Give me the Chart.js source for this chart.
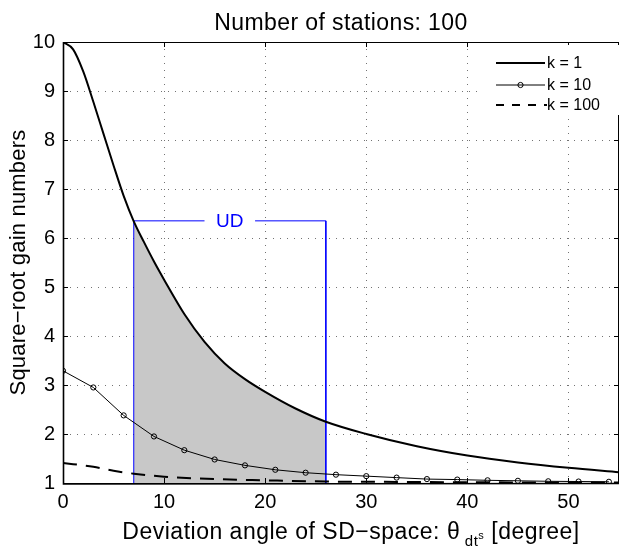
<!DOCTYPE html>
<html>
<head>
<meta charset="utf-8">
<script src="https://cdn.jsdelivr.net/npm/chart.js@4.4.1/dist/chart.umd.min.js"></script>
<style>
html,body{margin:0;padding:0;background:#fff;}
canvas{display:block;}
</style>
</head>
<body>
<canvas id="c" width="624" height="549"></canvas>
<script>
// ---- data ----
const titleText = "Number of stations: 100";
const yAxisTitle = "Square\u2212root gain numbers";
const xTickValues = [0, 10, 20, 30, 40, 50];
const yTickValues = [1, 2, 3, 4, 5, 6, 7, 8, 9, 10];

const xK1 = [0,1,2,3,4,5,6,7,8,9,10,12,14,16,18,20,23,26,30,35,40,45,50,55];
const yK1 = [10.0,9.85,9.40,8.78,8.13,7.48,6.86,6.34,5.92,5.52,5.15,4.45,3.88,3.44,3.12,2.86,2.52,2.25,2.0,1.75,1.56,1.42,1.31,1.22];

const xK10 = [0,3,6,9,12,15,18,21,24,27,30,33,36,39,42,45,48,51,54];
const yK10 = [3.29,2.95,2.38,1.95,1.67,1.48,1.36,1.27,1.21,1.17,1.14,1.11,1.08,1.07,1.055,1.045,1.035,1.03,1.025];

const xK100 = [0,3,5,7,10,15,20,26,30,40,50,55];
const yK100 = [1.41,1.33,1.25,1.19,1.13,1.08,1.055,1.03,1.025,1.015,1.01,1.008];

const seriesNames = ["k = 1", "k = 10", "k = 100"];
const udRange = [7, 26];      // UD interval on x
const udTop = 6.35;           // height of UD bracket
const udGap = [14, 19];       // gap in bracket for the label
const udLabel = "UD";

const FONT = "'Liberation Sans', Arial, Helvetica, sans-serif";

const pts = (xs, ys) => xs.map((x, i) => ({x: x, y: ys[i]}));
const shadePts = pts(xK1, yK1).filter(p => p.x >= udRange[0] && p.x <= udRange[1]);

const decor = {
  id: 'decor',
  afterDatasetsDraw(chart) {
    const ctx = chart.ctx, a = chart.chartArea;
    const xs = chart.scales.x, ys = chart.scales.y;
    ctx.save();
    // UD label
    ctx.fillStyle = '#0000ff';
    ctx.font = '19px ' + FONT;
    ctx.textAlign = 'center';
    ctx.textBaseline = 'middle';
    ctx.fillText(udLabel, xs.getPixelForValue((udGap[0] + udGap[1]) / 2), ys.getPixelForValue(udTop) + 1);

    // frame
    ctx.strokeStyle = '#000';
    ctx.lineWidth = 1;
    ctx.setLineDash([]);
    ctx.strokeRect(Math.round(a.left) + 0.5, Math.round(a.top) + 0.5, Math.round(a.right - a.left) - 1, Math.round(a.bottom - a.top));
    ctx.lineWidth = 1.6;
    ctx.beginPath();
    ctx.moveTo(Math.round(a.left) + 0.5, a.top);
    ctx.lineTo(Math.round(a.left) + 0.5, a.bottom + 1);
    ctx.lineTo(a.right, a.bottom + 0.5);
    ctx.stroke();
    // inward ticks
    ctx.lineWidth = 1;
    const tl = 5;
    ctx.beginPath();
    xTickValues.forEach(v => {
      const px = Math.round(xs.getPixelForValue(v)) + 0.5;
      ctx.moveTo(px, a.bottom); ctx.lineTo(px, a.bottom - tl);
      ctx.moveTo(px, a.top); ctx.lineTo(px, a.top + tl);
    });
    yTickValues.forEach(v => {
      const py = Math.round(ys.getPixelForValue(v)) + 0.5;
      ctx.moveTo(a.left, py); ctx.lineTo(a.left + tl, py);
      ctx.moveTo(a.right, py); ctx.lineTo(a.right - tl, py);
    });
    ctx.stroke();

    // legend
    const lx = 482, ly = 45, lw = 138, lh = 70;
    ctx.fillStyle = '#fff';
    ctx.fillRect(lx, ly, lw, lh);
    const rows = [63, 85, 105];
    const l0 = 496, l1 = 545;
    ctx.strokeStyle = '#000';
    ctx.lineWidth = 2;
    ctx.beginPath(); ctx.moveTo(l0, rows[0]); ctx.lineTo(l1, rows[0]); ctx.stroke();
    ctx.lineWidth = 1;
    ctx.beginPath(); ctx.moveTo(l0, rows[1]); ctx.lineTo(l1, rows[1]); ctx.stroke();
    ctx.beginPath(); ctx.arc((l0 + l1) / 2, rows[1], 2.6, 0, Math.PI * 2); ctx.stroke();
    ctx.lineWidth = 2;
    ctx.setLineDash([8, 8]);
    ctx.beginPath(); ctx.moveTo(l0, rows[2]); ctx.lineTo(l1 + 2, rows[2]); ctx.stroke();
    ctx.setLineDash([]);
    ctx.fillStyle = '#000';
    ctx.font = '16px ' + FONT;
    ctx.textAlign = 'left';
    ctx.textBaseline = 'middle';
    seriesNames.forEach((n, i) => ctx.fillText(n, 547, rows[i] + 1));

    // title
    ctx.font = '23px ' + FONT;
    ctx.letterSpacing = '0.4px';
    ctx.textAlign = 'center';
    ctx.textBaseline = 'alphabetic';
    ctx.fillText(titleText, (a.left + a.right) / 2, 30);

    // y axis title
    ctx.save();
    ctx.font = '22px ' + FONT;
    ctx.letterSpacing = '0.2px';
    ctx.translate(25, (a.top + a.bottom) / 2);
    ctx.rotate(-Math.PI / 2);
    ctx.textAlign = 'center';
    ctx.fillText(yAxisTitle, 0, 0);
    ctx.restore();

    // x axis title with sub/superscript
    ctx.letterSpacing = '0.5px';
    const parts = [
      {t: "Deviation angle of SD\u2212space: \u03b8", f: '23px ', dy: 0},
      {t: " dt", f: '15px ', dy: 7},
      {t: "s", f: '11px ', dy: 0},
      {t: " [degree]", f: '23px ', dy: 0}
    ];
    let total = 0;
    parts.forEach(p => { ctx.font = p.f + FONT; p.w = ctx.measureText(p.t).width; total += p.w; });
    let x = (a.left + a.right) / 2 - total / 2 + 10;
    const base = 539;
    ctx.textAlign = 'left';
    parts.forEach(p => { ctx.font = p.f + FONT; ctx.fillText(p.t, x, base + p.dy); x += p.w; });
    ctx.restore();
  }
};

new Chart(document.getElementById('c'), {
  type: 'line',
  data: {
    datasets: [
      {
        label: 'k = 1', data: pts(xK1, yK1), borderColor: '#000', borderWidth: 2,
        pointRadius: 0, cubicInterpolationMode: 'monotone', fill: false, order: 1
      },
      {
        label: 'k = 10', data: pts(xK10, yK10), borderColor: '#000', borderWidth: 1,
        pointRadius: 2.6, pointBorderWidth: 1, pointBorderColor: '#000',
        pointBackgroundColor: 'rgba(0,0,0,0)', pointStyle: 'circle', tension: 0, fill: false, order: 2
      },
      {
        label: 'k = 100', data: pts(xK100, yK100), borderColor: '#000', borderWidth: 2,
        borderDash: [14, 9], pointRadius: 0, cubicInterpolationMode: 'monotone', fill: false, order: 3
      },
      {
        label: 'UD left', data: [{x: udRange[0], y: 1}, {x: udRange[0], y: udTop}, {x: udGap[0], y: udTop}],
        borderColor: '#0000ff', borderWidth: 1, pointRadius: 0, tension: 0, fill: false, order: 5
      },
      {
        label: 'UD right', data: [{x: udGap[1], y: udTop}, {x: udRange[1], y: udTop}, {x: udRange[1], y: 1}],
        borderColor: '#0000ff', borderWidth: 1, pointRadius: 0, tension: 0, fill: false, order: 5
      },
      {
        label: 'UD area', data: shadePts, borderWidth: 0, borderColor: 'rgba(0,0,0,0)',
        backgroundColor: '#c8c8c8', pointRadius: 0, cubicInterpolationMode: 'monotone',
        fill: 'start', order: 10
      }
    ]
  },
  options: {
    responsive: false,
    animation: false,
    layout: {padding: {top: 42, right: 2, left: 0, bottom: 0}},
    plugins: {legend: {display: false}, title: {display: false}, tooltip: {enabled: false}},
    scales: {
      x: {
        type: 'linear', min: 0, max: 55,
        afterFit: s => { s.height = 66; },
        afterBuildTicks: s => { s.ticks = xTickValues.map(v => ({value: v})); },
        ticks: {font: {family: FONT, size: 20}, color: '#000', padding: 7, maxRotation: 0},
        grid: {color: 'rgba(0,0,0,0.55)', lineWidth: 1, drawTicks: false},
        border: {display: false, dash: [1, 6]}
      },
      y: {
        type: 'linear', min: 1, max: 10,
        afterFit: s => { s.width = 63; },
        afterBuildTicks: s => { s.ticks = yTickValues.map(v => ({value: v})); },
        ticks: {font: {family: FONT, size: 20}, color: '#000', padding: 8},
        grid: {color: 'rgba(0,0,0,0.55)', lineWidth: 1, drawTicks: false},
        border: {display: false, dash: [1, 6]}
      }
    }
  },
  plugins: [decor]
});
</script>
</body>
</html>
